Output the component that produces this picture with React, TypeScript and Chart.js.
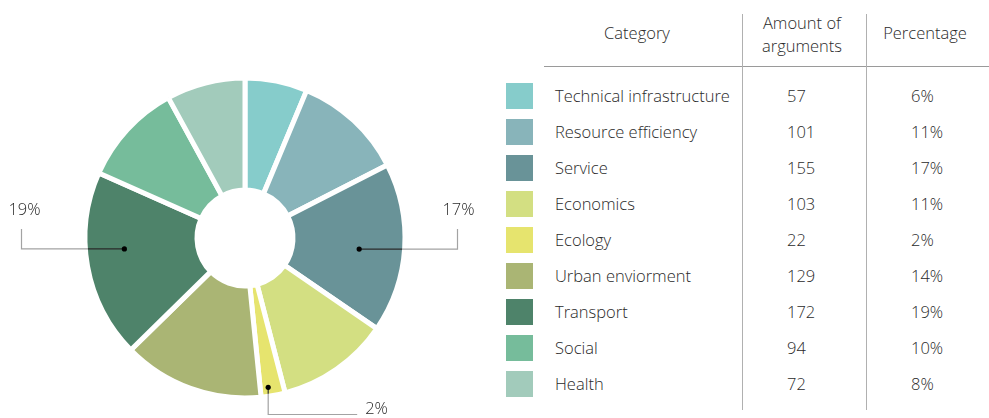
import React, { useEffect, useRef } from "react";
import { Chart, registerables } from "chart.js";
Chart.register(...registerables);

const categories = [
  "Technical infrastructure",
  "Resource efficiency",
  "Service",
  "Economics",
  "Ecology",
  "Urban enviorment",
  "Transport",
  "Social",
  "Health",
];
const amounts = [57, 101, 155, 103, 22, 129, 172, 94, 72];
const percentages = ["6%", "11%", "17%", "11%", "2%", "14%", "19%", "10%", "8%"];
const colors = [
  "#86CCCB",
  "#88B4BA",
  "#699398",
  "#D3DF82",
  "#E6E46E",
  "#AAB574",
  "#4E836A",
  "#76BC9B",
  "#A2CBBB",
];
const headerCategory = "Category";
const headerAmount = ["Amount of", "arguments"];
const headerPercent = "Percentage";

// callout placement (style only): which slice, where the dot sits inside it, and leader direction
const callouts = [
  { index: 2, angleFrac: 0.53, radiusFrac: 0.6, dir: "right" },
  { index: 6, angleFrac: 0.574, radiusFrac: 0.66, dir: "left" },
  { index: 4, angleFrac: 0.65, radiusFrac: 0.94, dir: "down" },
];

const FONT = "'Open Sans', 'Noto Sans', sans-serif";
const WEIGHT = 300;
const SIZE = 16.5;
const TEXT = "#2a2a2a";

const calloutPlugin = {
  id: "callouts",
  afterDraw(chart: any) {
    const meta = chart.getDatasetMeta(0);
    const ctx = chart.ctx;
    ctx.save();
    for (const c of callouts) {
      const arc = meta.data[c.index];
      if (!arc) continue;
      const p = arc.getProps(["x", "y", "startAngle", "endAngle", "innerRadius", "outerRadius"], true);
      const innerV = p.innerRadius + 2.5;
      const outerV = p.outerRadius - 2.5;
      const a = p.startAngle + (p.endAngle - p.startAngle) * c.angleFrac;
      const r = innerV + (outerV - innerV) * c.radiusFrac;
      const dx = Math.cos(a) * r;
      const dy = Math.sin(a) * r;
      const px = p.x + dx;
      const py = p.y + dy;
      const label = percentages[c.index];
      ctx.lineWidth = 1.2;
      ctx.font = `${WEIGHT} ${SIZE}px ${FONT}`;
      ctx.fillStyle = TEXT;
      if (c.dir === "right" || c.dir === "left") {
        const s = c.dir === "right" ? 1 : -1;
        const ex = p.x + s * (outerV + (c.dir === "right" ? 55 : 66));
        const cross = p.x + s * Math.sqrt(Math.max(outerV * outerV - dy * dy, 0));
        ctx.strokeStyle = "#a3a3a3";
        ctx.beginPath();
        ctx.moveTo(cross, py);
        ctx.lineTo(ex, py);
        ctx.lineTo(ex, py - 20);
        ctx.stroke();
        ctx.strokeStyle = "#2a2a2a";
        ctx.beginPath();
        ctx.moveTo(px, py);
        ctx.lineTo(cross, py);
        ctx.stroke();
        ctx.textAlign = "center";
        ctx.textBaseline = "middle";
        ctx.fillText(label, ex + (c.dir === "right" ? 1 : 3), py - 39);
      } else {
        const ey = p.y + outerV + 19;
        const cross = p.y + Math.sqrt(Math.max(outerV * outerV - dx * dx, 0));
        ctx.strokeStyle = "#a3a3a3";
        ctx.beginPath();
        ctx.moveTo(px, cross);
        ctx.lineTo(px, ey);
        ctx.lineTo(px + 89, ey);
        ctx.stroke();
        ctx.strokeStyle = "#2a2a2a";
        ctx.beginPath();
        ctx.moveTo(px, py);
        ctx.lineTo(px, cross);
        ctx.stroke();
        ctx.textAlign = "left";
        ctx.textBaseline = "middle";
        ctx.fillText(label, px + 97, ey - 5);
      }
      ctx.fillStyle = "#000";
      ctx.beginPath();
      ctx.arc(px, py, 2.6, 0, Math.PI * 2);
      ctx.fill();
    }
    ctx.restore();
  },
};

function Doughnut() {
  const ref = useRef<HTMLCanvasElement | null>(null);
  useEffect(() => {
    if (!ref.current) return;
    const chart = new Chart(ref.current, {
      type: "doughnut",
      data: {
        labels: categories,
        datasets: [
          {
            data: amounts,
            backgroundColor: colors,
            borderColor: "#ffffff",
            borderWidth: 5,
            hoverOffset: 0,
          },
        ],
      },
      options: {
        responsive: false,
        maintainAspectRatio: false,
        animation: false,
        radius: 160,
        cutout: "30%",
        rotation: 0,
        layout: { padding: { top: 58, left: 0, right: 0, bottom: 0 } },
        plugins: {
          legend: { display: false },
          tooltip: { enabled: false },
        },
        events: [],
      } as any,
      plugins: [calloutPlugin],
    });
    return () => chart.destroy();
  }, []);
  return (
    <canvas
      ref={ref}
      width={490}
      height={418}
      style={{ position: "absolute", left: 0, top: 0, width: 490, height: 418 }}
    />
  );
}

export default function App() {
  const rowY = (i: number) => 96 + i * 36;
  const base: React.CSSProperties = {
    position: "absolute",
    fontFamily: FONT,
    fontWeight: WEIGHT,
    fontSize: SIZE,
    color: TEXT,
    lineHeight: "22px",
    whiteSpace: "nowrap",
  };
  return (
    <div
      style={{
        position: "absolute",
        left: 0,
        top: 0,
        width: 989,
        height: 418,
        background: "#fff",
        overflow: "hidden",
      }}
    >
      <Doughnut />
      {/* headers */}
      <div style={{ ...base, left: 557, width: 160, top: 22, textAlign: "center" }}>{headerCategory}</div>
      <div style={{ ...base, left: 722, width: 160, top: 11, textAlign: "center", lineHeight: "23px" }}>
        {headerAmount[0]}
        <br />
        {headerAmount[1]}
      </div>
      <div style={{ ...base, left: 845, width: 160, top: 22, textAlign: "center" }}>{headerPercent}</div>
      {/* rules */}
      <div style={{ position: "absolute", left: 544, top: 66, width: 445, height: 1, background: "#9a9a9a" }} />
      <div style={{ position: "absolute", left: 742, top: 14, width: 1, height: 396, background: "#b0b0b0" }} />
      <div style={{ position: "absolute", left: 866, top: 14, width: 1, height: 396, background: "#b0b0b0" }} />
      {/* rows */}
      {categories.map((c, i) => (
        <React.Fragment key={c}>
          <div
            style={{
              position: "absolute",
              left: 506,
              top: rowY(i) - 13,
              width: 27,
              height: 26,
              background: colors[i],
            }}
          />
          <div style={{ ...base, left: 555, top: rowY(i) - 11 }}>{c}</div>
          <div style={{ ...base, left: 787, top: rowY(i) - 11 }}>{amounts[i]}</div>
          <div style={{ ...base, left: 911, top: rowY(i) - 11 }}>{percentages[i]}</div>
        </React.Fragment>
      ))}
    </div>
  );
}
